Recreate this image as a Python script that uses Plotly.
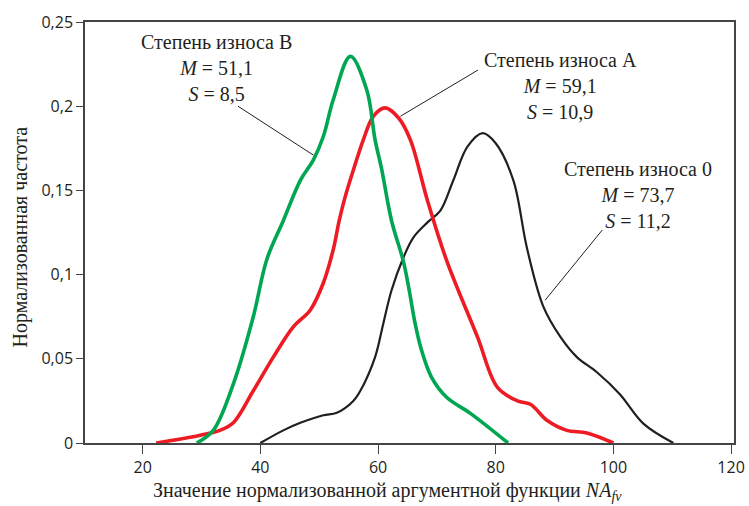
import plotly.graph_objects as go

# ---- data ----
green_x = [29.2, 32, 35.4, 38.8, 41.1, 43.9, 46.8, 49, 50.7, 52.4, 55.3, 58.1, 59.5, 60.6, 62.3, 64.3, 65.3, 66.3, 67.4, 69.1, 71.7, 75.7, 82.1]
green_y = [0, 0.0075, 0.035, 0.075, 0.109, 0.132, 0.156, 0.168, 0.182, 0.204, 0.2296, 0.2095, 0.180, 0.163, 0.132, 0.108, 0.0907, 0.071, 0.055, 0.039, 0.027, 0.0176, 0]

red_x = [22.3, 29.8, 33.1, 35.4, 38.8, 42.2, 45.6, 48.5, 50.7, 52.4, 53.4, 54.4, 55.8, 57.5, 59.2, 61.2, 63.5, 65.5, 68.4, 71.7, 76.9, 80.3, 83.7, 85.9, 88.7, 92.1, 95.5, 100]
red_y = [0, 0.0046, 0.0075, 0.012, 0.031, 0.051, 0.069, 0.079, 0.095, 0.115, 0.132, 0.146, 0.162, 0.180, 0.194, 0.199, 0.193, 0.180, 0.144, 0.108, 0.063, 0.033, 0.025, 0.023, 0.0135, 0.0075, 0.006, 0]

black_x = [40, 43.9, 46.8, 50.7, 53, 55.8, 57, 59.5, 60.9, 62.3, 64.3, 66, 68.4, 70.6, 72.8, 75.2, 77.8, 80, 83, 85.3, 88.1, 91, 93.8, 97.2, 101.1, 105.1, 110.2]
black_y = [0, 0.0075, 0.012, 0.0165, 0.018, 0.025, 0.031, 0.051, 0.071, 0.0907, 0.110, 0.122, 0.131, 0.138, 0.156, 0.176, 0.184, 0.178, 0.156, 0.116, 0.081, 0.063, 0.051, 0.042, 0.029, 0.0115, 0]

x_ticks = [20, 40, 60, 80, 100, 120]
y_ticks = [0, 0.05, 0.1, 0.15, 0.2, 0.25]
y_tick_labels = ["0", "0,05", "0,1", "0,15", "0,2", "0,25"]

labels = [
    ("Степень износа B", "51,1", "8,5"),
    ("Степень износа A", "59,1", "10,9"),
    ("Степень износа 0", "73,7", "11,2"),
]
label_pos = [(32.6, 0.2226), (91.0, 0.212), (104.1, 0.147)]
leader_lines = [((36.2, 0.200), (49.0, 0.171)),
                ((77.0, 0.2215), (63.8, 0.194)),
                ((98.1, 0.1264), (88.4, 0.0848))]

GREEN = "#00a651"
RED = "#ed1c24"
BLACK = "#231f20"

fig = go.Figure()
fig.add_trace(go.Scatter(x=black_x, y=black_y, mode="lines",
                         line=dict(color=BLACK, width=2.2, shape="spline", smoothing=1.0)))
fig.add_trace(go.Scatter(x=red_x, y=red_y, mode="lines",
                         line=dict(color=RED, width=3.6, shape="spline", smoothing=1.0)))
fig.add_trace(go.Scatter(x=green_x, y=green_y, mode="lines",
                         line=dict(color=GREEN, width=3.6, shape="spline", smoothing=1.0)))

serif = "Liberation Serif, Times New Roman, serif"
sans = "Open Sans, Noto Sans, sans-serif"

for (name, m, s), (lx, ly) in zip(labels, label_pos):
    fig.add_annotation(x=lx, y=ly, xref="x", yref="y", showarrow=False,
                       text=f"{name}<br><i>M</i> = {m}<br><i>S</i> = {s}",
                       font=dict(family=serif, size=20, color=BLACK),
                       align="center")

for (x0, y0), (x1, y1) in leader_lines:
    fig.add_shape(type="line", x0=x0, y0=y0, x1=x1, y1=y1, xref="x", yref="y",
                  line=dict(color=BLACK, width=1))

# axis titles
fig.add_annotation(x=0.5, y=0, xref="paper", yref="paper", yshift=-48, xshift=-22,
                   showarrow=False, xanchor="center", yanchor="middle",
                   text="Значение нормализованной аргументной функции <i>NA</i><sub><i>fv</i></sub>",
                   font=dict(family=serif, size=20, color=BLACK))
fig.add_annotation(x=0, y=0.5, xref="paper", yref="paper", xshift=-65, yshift=-5,
                   showarrow=False, textangle=-90, xanchor="center", yanchor="middle",
                   text="Нормализованная частота",
                   font=dict(family=serif, size=20, color=BLACK))

fig.update_layout(
    width=749, height=506,
    margin=dict(l=85, r=15, t=22, b=63, autoexpand=False),
    paper_bgcolor="white", plot_bgcolor="white",
    showlegend=False,
    font=dict(family=sans, size=16, color=BLACK),
)
fig.update_xaxes(range=[10.2, 120.5], tickvals=x_ticks, ticks="outside", ticklen=9,
                 tickcolor="#444", showline=True, linecolor="#444", linewidth=1.5,
                 mirror=True, showgrid=False, zeroline=False, automargin=False,
                 tickfont=dict(family=sans, size=16, color=BLACK))
fig.update_yaxes(range=[0, 0.25], tickvals=y_ticks, ticktext=y_tick_labels, ticks="outside", ticklen=7,
                 tickcolor="#444", showline=True, linecolor="#444", linewidth=1.5,
                 mirror=True, showgrid=False, zeroline=False, automargin=False,
                 tickfont=dict(family=sans, size=16, color=BLACK))

fig.write_html("out.html", config={"displayModeBar": False},
               post_script="document.body.style.margin='0';document.body.style.overflow='hidden';")
